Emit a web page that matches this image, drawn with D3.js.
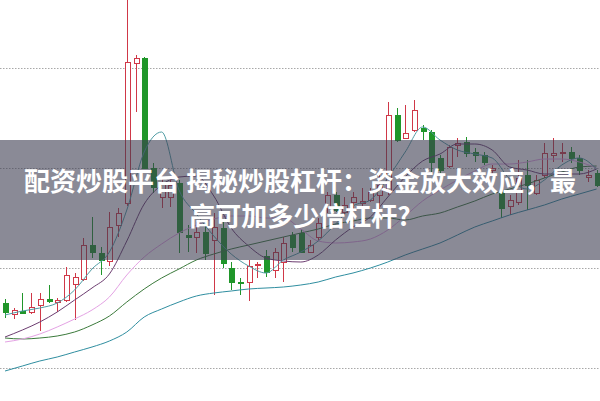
<!DOCTYPE html>
<html><head><meta charset="utf-8">
<script src="https://cdn.jsdelivr.net/npm/d3@7"></script>
<style>html,body{margin:0;padding:0;background:#fff;overflow:hidden}svg{display:block}</style>
</head><body>
<script>
// ---- data (prices) ----
const opens  = [10.65,10.54,10.57,10.56,10.63,10.69,10.66,10.68,10.84,10.89,11.23,11.15,11.07,11.43,11.65,13.05,13.10,12.00,11.71,11.71,11.85,11.33,11.31,11.36,11.28,11.40,11.00,10.86,10.86,11.03,11.12,10.98,11.06,11.33,11.35,11.16,11.31,11.60,11.73,11.56,11.66,11.65,11.68,11.73,11.78,12.53,12.30,12.38,12.40,12.36,12.10,12.02,12.23,12.26,12.16,12.13,11.98,11.76,11.62,11.66,11.93,11.75,11.93,12.13,12.15,12.16,12.10,11.91,11.95];
const highs  = [10.69,10.60,10.75,10.75,10.75,10.83,10.70,11.01,10.95,11.30,11.51,11.21,11.56,11.60,13.73,13.13,13.11,12.05,11.91,11.90,11.88,11.43,11.46,11.45,11.55,11.48,11.06,10.90,11.08,11.06,11.18,11.20,11.31,11.36,11.38,11.28,11.50,11.76,11.76,11.71,11.76,11.80,11.80,11.93,12.66,12.60,12.63,12.68,12.43,12.38,12.13,12.23,12.30,12.31,12.20,12.16,12.03,11.81,11.73,12.08,12.08,11.93,12.25,12.30,12.25,12.21,12.13,11.98,11.98];
const lows   = [10.50,10.49,10.54,10.54,10.37,10.65,10.56,10.66,10.48,10.87,11.10,10.93,11.02,11.31,11.62,12.56,11.99,11.75,11.60,11.61,11.15,11.16,11.15,11.08,10.73,11.00,10.78,10.73,10.67,10.90,10.91,10.90,10.86,11.16,11.15,11.15,11.28,11.55,11.56,11.53,11.58,11.60,11.66,11.58,11.73,12.26,12.29,12.36,12.28,11.96,11.95,12.00,12.11,12.11,12.06,12.03,11.93,11.50,11.53,11.63,11.58,11.73,11.90,12.06,12.06,12.05,11.93,11.86,11.81];
const closes = [10.56,10.58,10.55,10.61,10.69,10.67,10.68,10.93,10.91,11.23,11.16,11.08,11.41,11.55,13.06,13.10,12.00,11.81,11.86,11.83,11.36,11.31,11.36,11.15,11.41,11.05,10.86,10.85,11.02,11.04,10.96,11.16,11.25,11.21,11.16,11.23,11.45,11.73,11.58,11.63,11.71,11.67,11.76,11.83,12.53,12.28,12.35,12.58,12.37,12.06,11.98,12.21,12.25,12.15,12.13,12.06,12.00,11.60,11.68,11.90,11.83,11.88,12.15,12.15,12.16,12.10,11.98,11.93,11.83];

// moving averages, read at every second candle (candle index 0,2,4,...,68)
const maIndex = d3.range(0, 69, 2);
const ma5  = [10.53,10.57,10.60,10.65,10.78,10.99,11.16,11.58,12.16,12.36,11.78,11.54,11.32,11.14,11.02,10.95,11.08,11.16,11.27,11.44,11.62,11.68,11.90,12.16,12.41,12.28,12.18,12.14,12.10,11.89,11.79,11.88,12.03,12.10,11.99];
const ma10 = [10.31,10.38,10.46,10.56,10.68,10.80,10.94,11.27,11.64,11.83,11.91,11.92,11.72,11.40,11.22,11.10,11.07,11.06,11.13,11.28,11.41,11.51,11.71,11.91,12.07,12.14,12.24,12.24,12.18,12.01,11.98,11.94,11.94,11.94,11.99];
const ma20 = [10.26,10.29,10.34,10.41,10.49,10.58,10.71,10.93,11.11,11.24,11.35,11.43,11.49,11.52,11.52,11.50,11.50,11.39,11.27,11.25,11.26,11.29,11.38,11.52,11.67,11.78,11.88,11.97,12.04,12.04,12.06,12.09,12.09,12.06,12.00];
const ma30 = [10.30,10.29,10.30,10.32,10.36,10.43,10.52,10.66,10.79,10.90,10.99,11.08,11.14,11.19,11.23,11.27,11.31,11.35,11.39,11.44,11.47,11.50,11.50,11.48,11.52,11.55,11.61,11.67,11.74,11.79,11.84,11.90,11.96,12.01,12.02];
const ma60 = [9.97,10.02,10.07,10.11,10.16,10.21,10.27,10.36,10.51,10.59,10.66,10.72,10.75,10.77,10.79,10.80,10.81,10.83,10.86,10.91,10.95,11.00,11.06,11.13,11.19,11.25,11.33,11.41,11.47,11.53,11.58,11.63,11.69,11.74,11.79];

const gridValues = [10, 11, 12, 13];
const titleLines = ["配资炒股平台 揭秘炒股杠杆：资金放大效应，最", "高可加多少倍杠杆?"];

// ---- drawing ----
const W = 600, H = 401;
const svg = d3.select("body").append("svg").attr("width", W).attr("height", H);
svg.append("rect").attr("width", W).attr("height", H).attr("fill", "#fff");

const x = d3.scaleLinear().domain([0, opens.length - 1]).range([5, 596.6]);
const y = d3.scaleLinear().domain([10, 13]).range([368, 68]);

// grid
svg.append("g").selectAll("line").data(gridValues).join("line")
  .attr("x1", 0).attr("x2", W)
  .attr("y1", d => Math.round(y(d)) + 0.5).attr("y2", d => Math.round(y(d)) + 0.5)
  .attr("stroke", "#a8a8a8").attr("stroke-width", 1).attr("stroke-dasharray", "1.5,1.5");

const RED = "#d03848", GREEN = "#20962a";
const candles = opens.map((o, i) => ({i, o, h: highs[i], l: lows[i], c: closes[i], up: closes[i] >= o}));

const cg = svg.append("g").attr("shape-rendering", "crispEdges");
const cx = i => Math.round(x(i)) + 0.5;
// wicks
cg.selectAll("line.w").data(candles).join("line").attr("class", "w")
  .attr("x1", d => cx(d.i)).attr("x2", d => cx(d.i))
  .attr("y1", d => y(d.h)).attr("y2", d => y(d.l))
  .attr("stroke", d => d.up ? RED : GREEN).attr("stroke-width", 1);
// bodies
cg.selectAll("rect.b").data(candles).join("rect").attr("class", "b")
  .attr("x", d => cx(d.i) - 2.5).attr("width", 5)
  .attr("y", d => y(Math.max(d.o, d.c)))
  .attr("height", d => Math.max(1, Math.abs(y(d.o) - y(d.c))))
  .attr("fill", d => d.up ? "#fff" : GREEN)
  .attr("stroke", d => d.up ? RED : GREEN).attr("stroke-width", 1);

// moving averages
const maSeries = [
  {v: ma60, color: "#2f8ea0"},
  {v: ma30, color: "#3b7a3b"},
  {v: ma20, color: "#e4a2e4"},
  {v: ma10, color: "#6c3c70"},
  {v: ma5,  color: "#4f9ca4"}
];
const line = d3.line().x(d => x(d[0])).y(d => y(d[1])).curve(d3.curveMonotoneX);
svg.append("g").selectAll("path").data(maSeries).join("path")
  .attr("d", s => line(maIndex.map((k, j) => [k, s.v[j]])))
  .attr("fill", "none").attr("stroke", s => s.color).attr("stroke-width", 1);

// banner overlay
svg.append("rect").attr("x", 0).attr("y", 140).attr("width", W).attr("height", 120)
  .attr("fill", "rgba(60,60,80,0.6)");

svg.append("g").selectAll("text").data(titleLines).join("text")
  .attr("x", W / 2).attr("y", (d, k) => 191 + k * 35)
  .attr("text-anchor", "middle")
  .attr("font-family", "'Noto Sans CJK SC', 'Noto Sans', sans-serif")
  .attr("font-weight", "bold").attr("font-size", 26).attr("fill", "#fff")
  .text(d => d);
</script>
</body></html>
